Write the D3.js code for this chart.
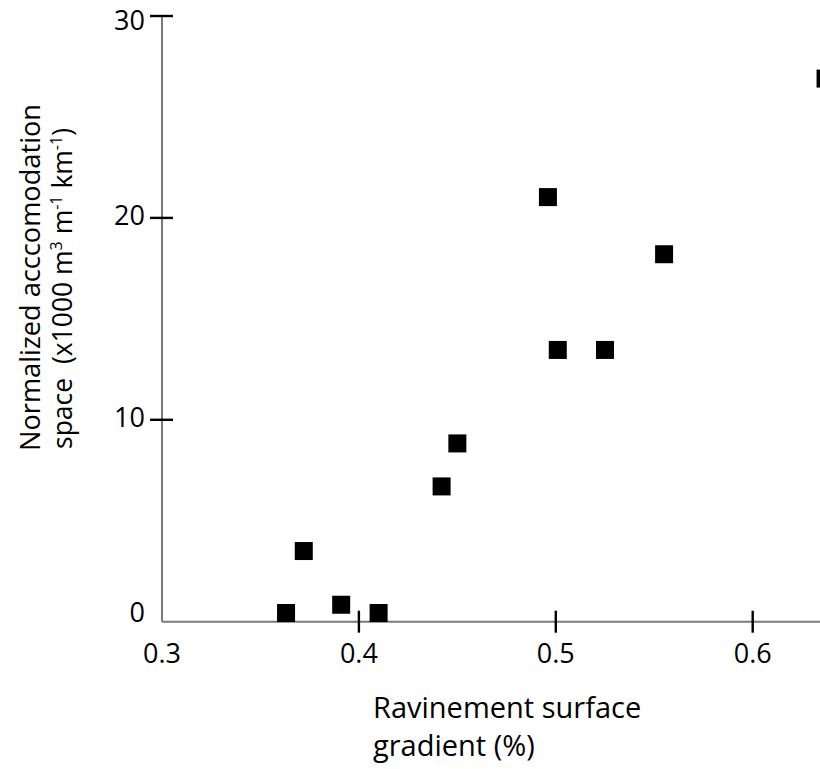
<!doctype html>
<html lang="en">
	<head>
		<meta charset="UTF-8" />
		<title>Accommodation vs ravinement gradient</title>
		<script src="https://d3js.org/d3.v7.min.js"></script>
		<style>
			body {
				margin: 0;
				background: #fff;
			}
			svg {
				display: block;
				font-family: 'Open Sans', sans-serif;
			}
			.axis-line {
				stroke: #7a7a7a;
				stroke-width: 2px;
			}
			.tick-mark {
				stroke: #000;
				stroke-width: 2.4px;
			}
			.point {
				fill: #000;
			}
		</style>
	</head>
	<body>
		<svg width="820" height="769"></svg>
		<script>
			// values
			const gradient = [0.363, 0.372, 0.391, 0.41, 0.442, 0.45, 0.496, 0.501, 0.525, 0.555, 0.637]
			const accommodation = [0.43, 3.5, 0.84, 0.43, 6.7, 8.83, 21.03, 13.46, 13.46, 18.2, 26.9]
			const xTicks = [0.4, 0.5, 0.6]
			const xLabels = [0.3, 0.4, 0.5, 0.6]
			const yTicks = [10, 20, 30]
			const yLabels = [0, 10, 20, 30]

			const svg = d3.select('svg')
			const width = +svg.attr('width')

			const x = d3.scaleLinear().domain([0.3, 0.6]).range([162, 752.7])
			const y = d3.scaleLinear().domain([0, 30]).range([621.7, 16])

			const x0 = x(0.3)
			const y0 = y(0)

			// axis lines
			svg.append('line')
				.attr('class', 'axis-line')
				.attr('x1', x0)
				.attr('x2', x0)
				.attr('y1', y(30))
				.attr('y2', y0)
			svg.append('line')
				.attr('class', 'axis-line')
				.attr('x1', x0)
				.attr('x2', width)
				.attr('y1', y0)
				.attr('y2', y0)

			// ticks cross the axis
			svg.append('g')
				.selectAll('line')
				.data(xTicks)
				.join('line')
				.attr('class', 'tick-mark')
				.attr('x1', (d) => x(d))
				.attr('x2', (d) => x(d))
				.attr('y1', y0 - 11)
				.attr('y2', y0 + 11)

			svg.append('g')
				.selectAll('line')
				.data(yTicks)
				.join('line')
				.attr('class', 'tick-mark')
				.attr('x1', x0 - 12)
				.attr('x2', x0 + 11)
				.attr('y1', (d) => y(d))
				.attr('y2', (d) => y(d))

			svg.append('g')
				.selectAll('text')
				.data(xLabels)
				.join('text')
				.attr('x', (d) => x(d))
				.attr('y', y0 + 41)
				.attr('text-anchor', 'middle')
				.attr('font-size', 27)
				.text((d) => d3.format('.1f')(d))

			svg.append('g')
				.selectAll('text')
				.data(yLabels)
				.join('text')
				.attr('x', x0 - 17)
				.attr('y', (d) => y(d) + (d === 0 ? 0 : d === 30 ? 14 : 7))
				.attr('text-anchor', 'end')
				.attr('font-size', 27)
				.text((d) => d)

			// points
			const pts = gradient.map((g, i) => ({ g, a: accommodation[i] }))
			const s = 18
			svg.append('g')
				.selectAll('rect')
				.data(pts)
				.join('rect')
				.attr('class', 'point')
				.attr('x', (d) => x(d.g) - s / 2)
				.attr('y', (d) => y(d.a) - s / 2)
				.attr('width', s)
				.attr('height', s)

			// x title
			const xt = svg.append('text').attr('font-size', 29)
			xt.append('tspan').attr('x', 373).attr('y', 718).text('Ravinement surface')
			xt.append('tspan').attr('x', 373).attr('y', 756).text('gradient (%)')

			// y title, rotated
			const yt = svg.append('g').attr('transform', 'rotate(-90)')
			yt.append('text')
				.attr('x', -451)
				.attr('y', 40)
				.attr('font-size', 27.2)
				.text('Normalized acccomodation')
			const l2 = yt.append('text')
				.attr('x', -449)
				.attr('y', 72)
				.attr('font-size', 26.5)
				.style('white-space', 'pre')
			l2.append('tspan').text('space  (x1000 m')
			l2.append('tspan').attr('font-size', 16).attr('dy', -10).text('3')
			l2.append('tspan').attr('dy', 10).text(' m')
			l2.append('tspan').attr('font-size', 16).attr('dy', -10).text('-1')
			l2.append('tspan').attr('dy', 10).text(' km')
			l2.append('tspan').attr('font-size', 16).attr('dy', -10).text('-1')
			l2.append('tspan').attr('dy', 10).text(')')
		</script>
	</body>
</html>
